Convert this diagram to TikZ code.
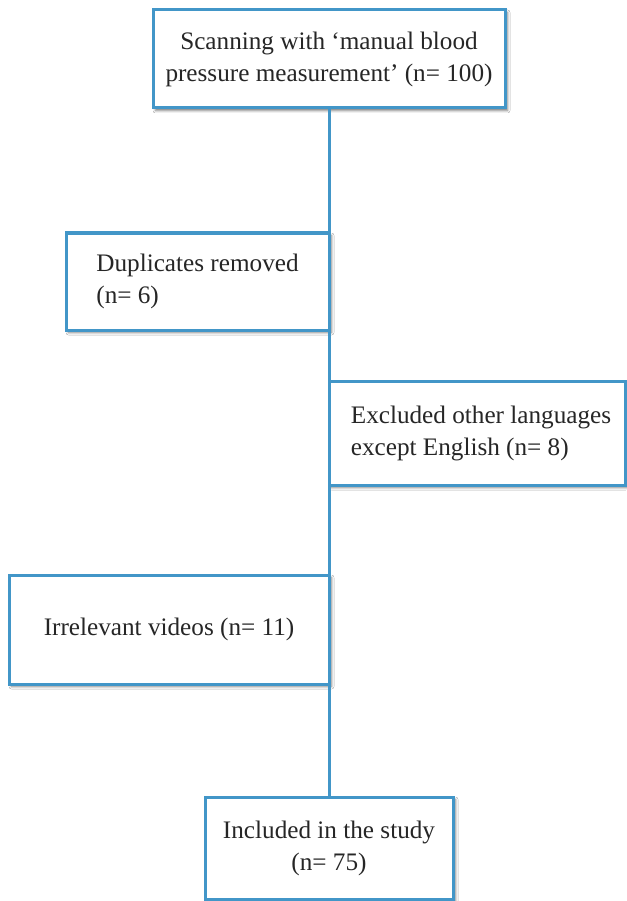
\documentclass[tikz,border=0pt]{standalone}
\usepackage{fontspec}
\setmainfont{Liberation Serif}
\usetikzlibrary{shadows.blur}
\definecolor{boxblue}{RGB}{66,150,200}
\tikzset{
  flowbox/.style={draw=boxblue, line width=3pt, fill=white, rectangle, inner sep=0pt, outer sep=0pt,
    font=\fontsize{25.2pt}{32pt}\selectfont, text=black!85,
    blur shadow={shadow xshift=2.5pt, shadow yshift=-2.5pt, shadow blur radius=2.5pt, shadow opacity=55}},
  flowline/.style={draw=boxblue, line width=3pt}
}
\begin{document}
\begin{tikzpicture}[x=1pt, y=-1pt]
\useasboundingbox (0,0) rectangle (626,901);
\fill[white] (0,0) rectangle (626,901);
\node[flowbox, minimum width=352pt, minimum height=98pt, align=center] (scan) at (329,59)
  {Scanning with ‘manual blood\\pressure measurement’ (n= 100)};
\node[flowbox, minimum width=263pt, minimum height=97pt, align=left] (dup) at (197.5,281.5)
  {Duplicates removed\\(n= 6)\hspace*{8pt}};
\node[flowbox, minimum width=296pt, minimum height=104pt, align=left] (lang) at (477,433)
  {\hspace*{8pt}Excluded other languages\\\hspace*{8pt}except English (n= 8)};
\node[flowbox, minimum width=320pt, minimum height=109pt, align=center] (irr) at (169,629.5)
  {Irrelevant videos (n= 11)};
\node[flowbox, minimum width=248pt, minimum height=102pt, align=center] (inc) at (329,848)
  {Included in the study\\(n= 75)};
\draw[flowline] (scan.south) -- (dup.north east);
\draw[flowline] (dup.south east) -- (lang.north west);
\draw[flowline] (lang.south west) -- (irr.north east);
\draw[flowline] (irr.south east) -- (inc.north);
\end{tikzpicture}
\end{document}
